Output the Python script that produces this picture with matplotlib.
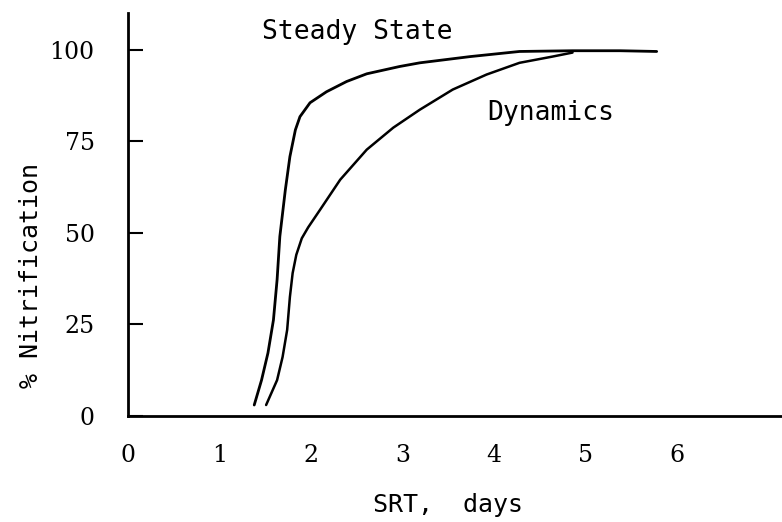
import matplotlib
matplotlib.use("Agg")
import matplotlib.pyplot as plt

# Data
steady_x = [1.38, 1.46, 1.53, 1.59, 1.63, 1.66, 1.72, 1.77, 1.83, 1.88, 1.99, 2.17,
            2.39, 2.61, 2.97, 3.19, 3.74, 4.28, 4.86, 5.38, 5.78]
steady_y = [3.0, 9.8, 17.2, 26.2, 37.2, 49.0, 61.7, 70.8, 78.1, 81.7, 85.5, 88.5,
            91.3, 93.4, 95.4, 96.4, 98.1, 99.5, 99.7, 99.7, 99.5]

dyn_x = [1.51, 1.63, 1.69, 1.74, 1.77, 1.80, 1.84, 1.90, 1.97, 2.10, 2.32, 2.61, 2.90,
         3.19, 3.55, 3.92, 4.28, 4.64, 4.86]
dyn_y = [3.0, 9.8, 16.1, 23.5, 32.5, 39.0, 44.0, 48.5, 51.5, 56.3, 64.5, 72.7, 78.7,
         83.6, 89.1, 93.2, 96.4, 98.1, 99.2]

x_ticks = [0, 1, 2, 3, 4, 5, 6]
y_ticks = [0, 25, 50, 75, 100]

mono = ["DejaVu Sans Mono"]
serif = ["DejaVu Serif"]

fig = plt.figure(figsize=(7.82, 5.22), dpi=100)
ax = fig.add_axes([128 / 782, 106 / 522, (782 - 128) / 782, (416 - 13) / 522])

ax.plot(steady_x, steady_y, color="black", lw=2.0, solid_capstyle="round",
        solid_joinstyle="round")
ax.plot(dyn_x, dyn_y, color="black", lw=1.8, solid_capstyle="round",
        solid_joinstyle="round")

ax.set_xlim(0, 7.15)
ax.set_ylim(0, 110)

for s in ["top", "right"]:
    ax.spines[s].set_visible(False)
for s in ["left", "bottom"]:
    ax.spines[s].set_linewidth(2.0)

ax.set_xticks(x_ticks)
ax.set_xticklabels([str(v) for v in x_ticks], fontsize=17, family=serif)
ax.set_yticks(y_ticks)
ax.set_yticklabels([str(v) for v in y_ticks], fontsize=17, family=serif)
ax.tick_params(axis="x", length=0, pad=20)
ax.tick_params(axis="y", direction="in", length=11, width=1.5, pad=24)

ax.set_xlabel("SRT,  days", fontsize=18, family=mono)
ax.xaxis.set_label_coords((448 - 128) / 654, -(493 - 416) / 403)
ax.set_ylabel("% Nitrification", fontsize=18, family=mono)
ax.yaxis.set_label_coords(-(128 - 43) / 654, (416 - 276) / 403)

ax.text(2.51, 104.9, "Steady State", fontsize=19, family=mono, ha="center", va="center")
ax.text(4.62, 82.8, "Dynamics", fontsize=19, family=mono, ha="center", va="center")

fig.savefig("out.png", dpi=100)
